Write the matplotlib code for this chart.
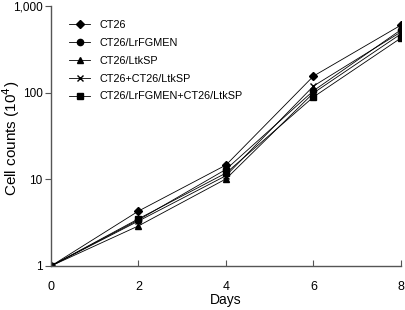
import matplotlib
matplotlib.use("Agg")
import matplotlib.pyplot as plt
from matplotlib.ticker import FixedLocator, NullLocator

plt.rcParams['font.family'] = ['Liberation Sans', 'DejaVu Sans']

days = [0, 2, 4, 6, 8]
series_names = ["CT26", "CT26/LrFGMEN", "CT26/LtkSP", "CT26+CT26/LtkSP",
                "CT26/LrFGMEN+CT26/LtkSP"]
ct26 = [1, 4.3, 14.6, 155, 600]
ct26_lrfgmen = [1, 3.4, 13.0, 105, 530]
ct26_ltksp = [1, 2.9, 10.1, 99, 475]
ct26_plus_ltksp = [1, 3.3, 11.0, 119, 500]
lrfgmen_plus_ltksp = [1, 3.5, 11.8, 89, 426]
markers = ["D", "o", "^", "x", "s"]
marker_sizes = [4.5, 4.5, 5, 4.5, 4.5]

y_ticks = [1, 10, 100, 1000]
y_tick_labels = ["1", "10", "100", "1,000"]
x_ticks = [0, 2, 4, 6, 8]

fig = plt.figure(figsize=(4.06, 3.10), dpi=100)
ax = fig.add_axes([0.1256, 0.142, 0.862, 0.839])

all_series = [ct26, ct26_lrfgmen, ct26_ltksp, ct26_plus_ltksp, lrfgmen_plus_ltksp]
for name, vals, m, ms in zip(series_names, all_series, markers, marker_sizes):
    ax.plot(days, vals, color='black', lw=0.6, marker=m, ms=ms,
            mfc='black', mec='black', mew=1.0, label=name)

ax.set_yscale('log')
ax.set_ylim(1, 1000)
ax.set_xlim(0, 8)
ax.yaxis.set_major_locator(FixedLocator(y_ticks))
ax.yaxis.set_minor_locator(NullLocator())
ax.set_yticklabels(y_tick_labels)
ax.set_xticks(x_ticks)

for s in ['top', 'right']:
    ax.spines[s].set_visible(False)
for s in ['left', 'bottom']:
    ax.spines[s].set_color('#555555')
    ax.spines[s].set_linewidth(1.0)
ax.tick_params(axis='y', direction='out', length=4, color='#555555', labelsize=8.5, pad=2)
ax.tick_params(axis='x', direction='in', length=4, color='#555555', labelsize=9, pad=10.5)

ax.set_xlabel("Days", fontsize=10, labelpad=0)
ax.set_ylabel("Cell counts (10$^4$)", fontsize=11)
ax.yaxis.set_label_coords(-0.082, 0.49)

leg = ax.legend(loc='upper left', bbox_to_anchor=(0.04, 0.962), frameon=False,
                fontsize=7.8, handlelength=1.9, handletextpad=0.85,
                labelspacing=0.72, borderaxespad=0)

fig.savefig("out.png", dpi=100)
